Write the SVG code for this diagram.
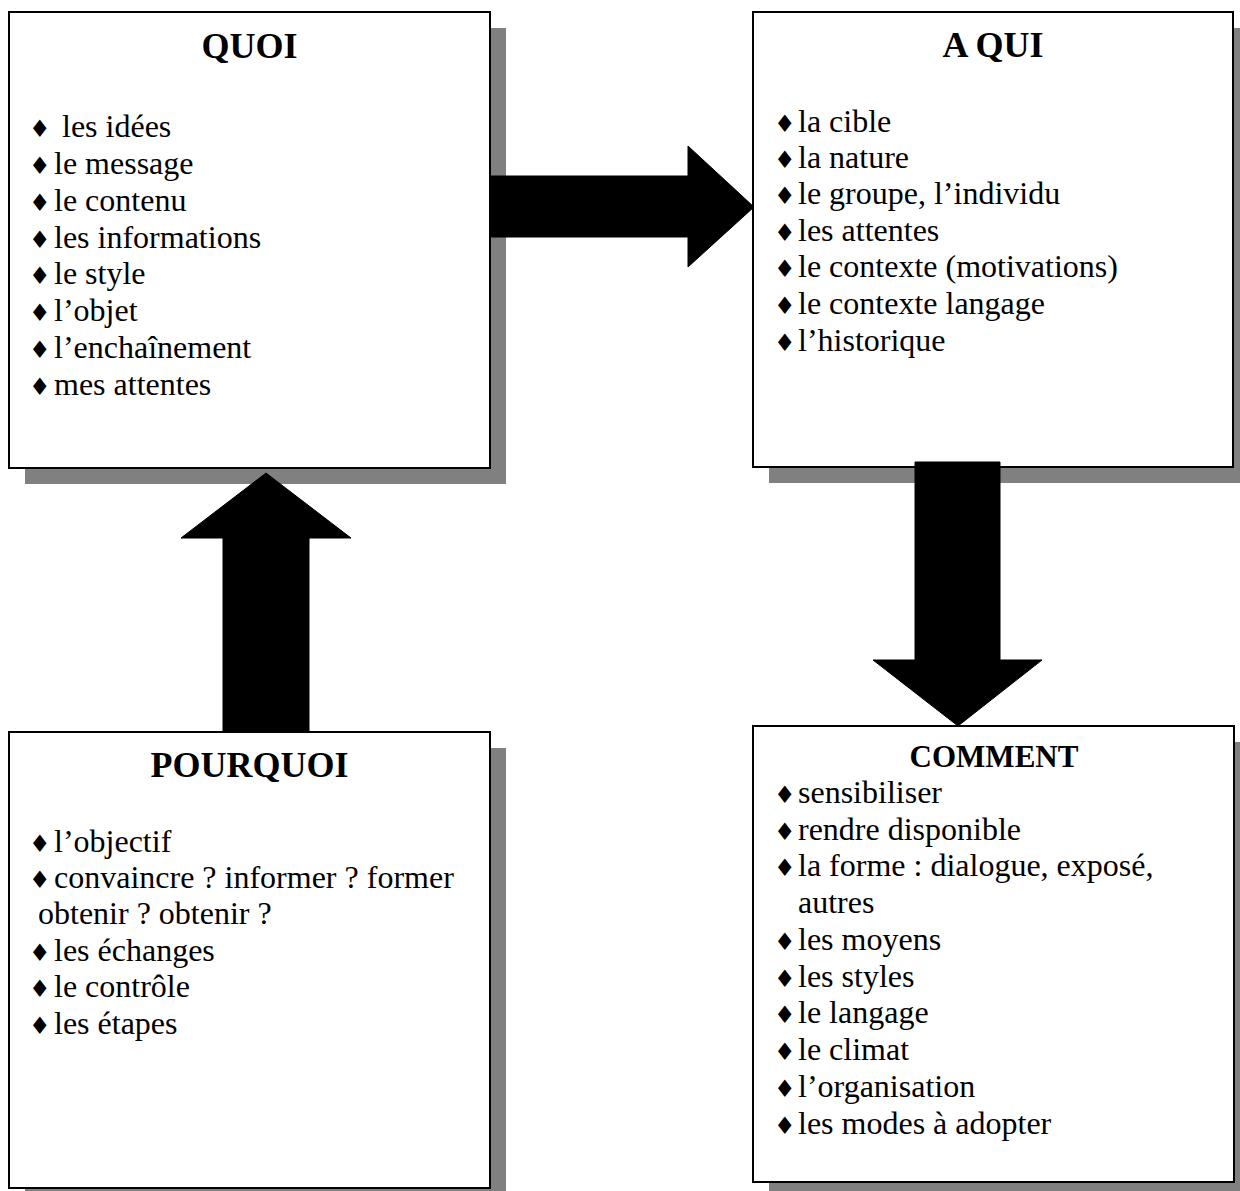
<svg xmlns="http://www.w3.org/2000/svg" width="1240" height="1191" viewBox="0 0 1240 1191">
<style>
.shadow{fill:#808080;}
.box{fill:#fff;stroke:#000;stroke-width:2;}
.title{font-family:"Liberation Serif","Times New Roman",serif;font-weight:bold;font-size:36px;fill:#000;text-anchor:middle;}
.title2{font-family:"Liberation Serif","Times New Roman",serif;font-weight:bold;font-size:31px;fill:#000;text-anchor:middle;}
.item{font-family:"Liberation Serif","Times New Roman",serif;font-size:32px;fill:#000;}
.bul{font-family:"DejaVu Sans",sans-serif;font-size:24px;fill:#000;}
.arrow{fill:#000;stroke:#000;stroke-width:1;}
</style>
<rect width="1240" height="1191" fill="#fff"/>
<g id="quoi">
<rect class="shadow" x="25" y="28" width="481" height="456"/>
<rect class="box" x="9" y="12" width="481" height="456"/>
<text class="title" x="249.5" y="58">QUOI</text>
<g class="bul"><text x="29" y="137">♦</text><text x="29" y="174">♦</text><text x="29" y="211">♦</text><text x="29" y="248">♦</text><text x="29" y="284">♦</text><text x="29" y="321">♦</text><text x="29" y="358">♦</text><text x="29" y="395">♦</text></g>
<text class="item" x="62" y="137">les idées</text>
<text class="item" x="54" y="174">le message</text>
<text class="item" x="54" y="211">le contenu</text>
<text class="item" x="54" y="248">les informations</text>
<text class="item" x="54" y="284">le style</text>
<text class="item" x="54" y="321">l’objet</text>
<text class="item" x="54" y="358">l’enchaînement</text>
<text class="item" x="54" y="395">mes attentes</text>
</g>
<g id="aqui">
<rect class="shadow" x="769" y="28" width="480" height="455"/>
<rect class="box" x="753" y="12" width="480" height="455"/>
<text class="title" x="993" y="57">A QUI</text>
<g class="bul"><text x="774" y="132">♦</text><text x="774" y="168">♦</text><text x="774" y="204">♦</text><text x="774" y="241">♦</text><text x="774" y="277">♦</text><text x="774" y="314">♦</text><text x="774" y="351">♦</text></g>
<text class="item" x="798" y="132">la cible</text>
<text class="item" x="798" y="168">la nature</text>
<text class="item" x="798" y="204">le groupe, l’individu</text>
<text class="item" x="798" y="241">les attentes</text>
<text class="item" x="798" y="277">le contexte (motivations)</text>
<text class="item" x="798" y="314">le contexte langage</text>
<text class="item" x="798" y="351">l’historique</text>
</g>
<g id="pourquoi">
<rect class="shadow" x="25" y="748" width="481" height="456"/>
<rect class="box" x="9" y="732" width="481" height="456"/>
<text class="title" x="249.5" y="777">POURQUOI</text>
<g class="bul"><text x="29" y="852">♦</text><text x="29" y="888">♦</text><text x="29" y="961">♦</text><text x="29" y="997">♦</text><text x="29" y="1034">♦</text></g>
<text class="item" x="54" y="852">l’objectif</text>
<text class="item" x="54" y="888">convaincre ? informer ? former</text>
<text class="item" x="38" y="924">obtenir ? obtenir ?</text>
<text class="item" x="54" y="961">les échanges</text>
<text class="item" x="54" y="997">le contrôle</text>
<text class="item" x="54" y="1034">les étapes</text>
</g>
<g id="comment">
<rect class="shadow" x="769" y="742" width="481" height="456"/>
<rect class="box" x="753" y="726" width="481" height="456"/>
<text class="title2" x="994" y="767">COMMENT</text>
<g class="bul"><text x="774" y="803">♦</text><text x="774" y="840">♦</text><text x="774" y="876">♦</text><text x="774" y="950">♦</text><text x="774" y="987">♦</text><text x="774" y="1023">♦</text><text x="774" y="1060">♦</text><text x="774" y="1097">♦</text><text x="774" y="1134">♦</text></g>
<text class="item" x="798" y="803">sensibiliser</text>
<text class="item" x="798" y="840">rendre disponible</text>
<text class="item" x="798" y="876">la forme : dialogue, exposé,</text>
<text class="item" x="798" y="913">autres</text>
<text class="item" x="798" y="950">les moyens</text>
<text class="item" x="798" y="987">les styles</text>
<text class="item" x="798" y="1023">le langage</text>
<text class="item" x="798" y="1060">le climat</text>
<text class="item" x="798" y="1097">l’organisation</text>
<text class="item" x="798" y="1134">les modes à adopter</text>
</g>
<g id="connectors">
<polygon class="arrow" points="490,176 688,176 688,146 754,207 688,267 688,237 490,237"/>
<polygon class="arrow" points="915,462 1000,462 1000,660 1042,660 958,726 873,660 915,660"/>
<polygon class="arrow" points="223,732 223,538 181,538 266,473 351,538 309,538 309,732"/>
</g>
</svg>
